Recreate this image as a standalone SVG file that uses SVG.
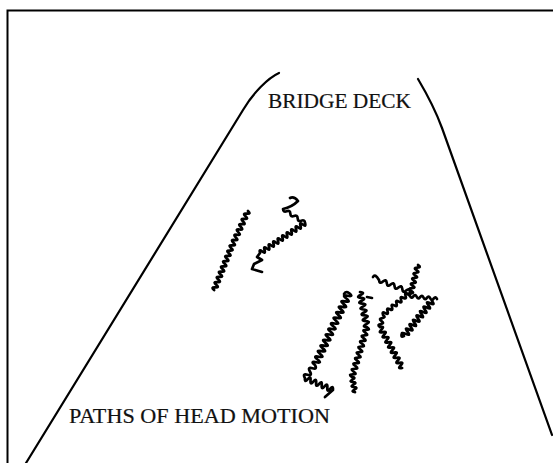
<svg xmlns="http://www.w3.org/2000/svg" width="553" height="463" viewBox="0 0 553 463">
<style>
.frame{fill:none;stroke:#000;stroke-width:2}
.edge{fill:none;stroke:#000;stroke-width:2.2;stroke-linecap:round}
.sq{fill:none;stroke:#000;stroke-width:2.7;stroke-linejoin:round;stroke-linecap:round}
.lbl{font-family:"Liberation Serif","Times New Roman",serif;font-size:20px;fill:#111;stroke:#111;stroke-width:0.2}
</style>
<rect width="553" height="463" fill="#fff"/>
<g id="frame">
<path class="frame" d="M7.5,463 V10.5 H553"/>
</g>
<g id="bridge-deck">
<path class="edge" d="M279,73 C268,78 253,93 243,110 L26,463"/>
<path class="edge" d="M418,79 Q434,106 442,128 L552,435"/>
<text class="lbl" x="268" y="108" textLength="143" lengthAdjust="spacingAndGlyphs">BRIDGE DECK</text>
</g>
<g id="paths-of-head-motion">
<path id="pathA" class="sq" d="M248,211 q3.48,3.2 -1.21,2.64 t-1.21,2.64 -1.21,2.64 -1.21,2.64 -1.21,2.64 -1.21,2.64 -1.21,2.64 -1.21,2.64 -1.21,2.64 -1.21,2.64 -1.21,2.64 -1.21,2.64 -1.21,2.64 -1.21,2.64 q3.64,3.0 -1.06,2.63 t-1.06,2.63 -1.06,2.63 -1.06,2.63 -1.06,2.63 -1.06,2.63 -1.06,2.63 -1.06,2.63 -1.06,2.63 -1.06,2.63 -1.06,2.63 -1.06,2.63 -1.06,2.63 -1.06,2.63 -1.06,2.63 -1.06,2.63"/>
<path id="pathB" class="sq" d="M290,198 q4,-2 8,3 q-6,6 -15,8 q0.22,3.70 3.67,2.33 t3.67,2.33 3.67,2.33 3.67,2.33 3.67,2.33 3.67,2.33 q1.37,4.49 -2.25,1.5 t-2.25,1.5 -2.25,1.5 -2.25,1.5 -2.25,1.5 -2.25,1.5 -2.25,1.5 -2.25,1.5 -2.25,1.5 -2.25,1.5 -2.25,1.5 -2.25,1.5 -2.25,1.5 -2.25,1.5 -2.25,1.5 -2.25,1.5 -2.25,1.5 -2.25,1.5 -2.25,1.5 -2.25,1.5 l-3,4 5,3 -8,4 -2,5 10,3"/>
<path id="pathC1" class="sq" d="M344,294 q2,-3 5,-1 q5.22,4.16 -1.31,2.77 t-1.31,2.77 -1.31,2.77 -1.31,2.77 -1.31,2.77 -1.31,2.77 -1.31,2.77 -1.31,2.77 -1.31,2.77 -1.31,2.77 -1.31,2.77 -1.31,2.77 -1.31,2.77 -1.31,2.77 -1.31,2.77 -1.31,2.77 -1.31,2.77 -1.31,2.77 -1.31,2.77 -1.31,2.77 -1.31,2.77 -1.31,2.77 -1.31,2.77 -1.31,2.77 -1.31,2.77 -1.31,2.77 q2.72,4.68 -2.5,3.25 t-2.5,3.25 -2.5,3.25 -2.5,3.25 q-0.57,5.2 2.8,1.2 t2.8,1.2 2.8,1.2 2.8,1.2 2.8,1.2 2.8,1.2 2.8,1.2 2.8,1.2 2.8,1.2 2.8,1.2 l-8,7"/>
<path id="pathC2" class="sq" d="M360,292 q5.69,0.38 0.58,2.92 t0.58,2.92 0.58,2.92 0.58,2.92 0.58,2.92 0.58,2.92 0.58,2.92 0.58,2.92 0.58,2.92 0.58,2.92 0.58,2.92 0.58,2.92 q4.37,2.82 -0.83,2.78 t-0.83,2.78 -0.83,2.78 -0.83,2.78 -0.83,2.78 -0.83,2.78 -0.83,2.78 -0.83,2.78 -0.83,2.78 -0.83,2.78 -0.83,2.78 -0.83,2.78 -0.83,2.78 -0.83,2.78 -0.83,2.78 -0.83,2.78 -0.83,2.78 -0.83,2.78 q4.66,0.37 0.5,2.5 t0.5,2.5 0.5,2.5 0.5,2.5 0.5,2.5 0.5,2.5 M367,297 l5,1"/>
<path id="pathC3" class="sq" d="M373,277 q2,-4 6,3 q0.49,4.49 3.88,1.5 t3.88,1.5 3.88,1.5 3.88,1.5 3.88,1.5 3.88,1.5 3.88,1.5 3.88,1.5 q1.47,4 -2.25,1.92 t-2.25,1.92 -2.25,1.92 -2.25,1.92 -2.25,1.92 -2.25,1.92 -2.25,1.92 -2.25,1.92 -2.25,1.92 -2.25,1.92 -2.25,1.92 -2.25,1.92 q3.5,2.47 -0.75,3 t-0.75,3 -0.75,3 -0.75,3 q5.09,-1.08 1.38,2.56 t1.38,2.56 1.38,2.56 1.38,2.56 1.38,2.56 1.38,2.56 1.38,2.56 1.38,2.56 1.38,2.56 1.38,2.56 1.38,2.56 1.38,2.56 1.38,2.56 1.38,2.56 1.38,2.56 1.38,2.56"/>
<path id="pathC4" class="sq" d="M418,265 q4.02,2.42 -0.67,2.58 t-0.67,2.58 -0.67,2.58 -0.67,2.58 -0.67,2.58 -0.67,2.58 -0.67,2.58 -0.67,2.58 -0.67,2.58 -0.67,2.58 -0.67,2.58 -0.67,2.58 q1.36,3.17 3.38,0.38 t3.38,0.38 3.38,0.38 3.38,0.38 3.38,0.38 3.38,0.38 3.38,0.38 3.38,0.38"/>
<path id="pathC5" class="sq" d="M432,301 q3.81,4.84 -1.75,2.19 t-1.75,2.19 -1.75,2.19 -1.75,2.19 -1.75,2.19 -1.75,2.19 -1.75,2.19 -1.75,2.19 -1.75,2.19 -1.75,2.19 -1.75,2.19 -1.75,2.19 -1.75,2.19 -1.75,2.19 -1.75,2.19 -1.75,2.19 q-4,2 -2,-3"/>
<text class="lbl" x="69" y="423" textLength="261" lengthAdjust="spacingAndGlyphs">PATHS OF HEAD MOTION</text>
</g>
</svg>
